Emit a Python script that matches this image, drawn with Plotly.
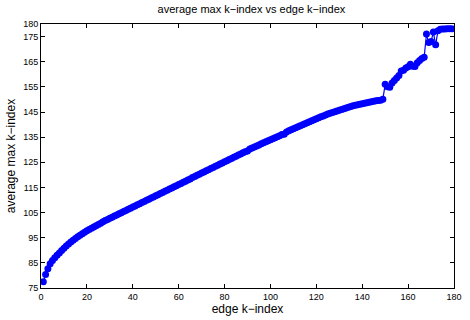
import plotly.graph_objects as go

edge_k = list(range(1, 180))
avg_max_k = [
    77.5, 80.4, 82.7, 84.6, 85.9, 87.0, 88.0, 88.9, 89.9, 90.8,
    91.7, 92.5, 93.3, 94.0, 94.7, 95.4, 96.0, 96.6, 97.2, 97.8,
    98.3, 98.8, 99.3, 99.8, 100.3, 100.8, 101.3, 101.8, 102.2, 102.7,
    103.1, 103.6, 104.0, 104.5, 104.9, 105.4, 105.8, 106.3, 106.7, 107.2,
    107.6, 108.1, 108.5, 109.0, 109.4, 109.9, 110.3, 110.8, 111.2, 111.7,
    112.1, 112.6, 113.0, 113.5, 113.9, 114.4, 114.8, 115.3, 115.7, 116.2,
    116.6, 117.1, 117.5, 118.0, 118.4, 118.9, 119.3, 119.8, 120.2, 120.7,
    121.1, 121.6, 122.0, 122.5, 122.9, 123.4, 123.8, 124.3, 124.7, 125.2,
    125.6, 126.1, 126.5, 127.0, 127.4, 127.9, 128.3, 128.8, 129.2, 129.5,
    130.3, 130.7, 131.1, 131.5, 131.9, 132.4, 132.8, 133.2, 133.6, 134.0,
    134.4, 134.8, 135.2, 135.6, 136.1, 136.2, 137.0, 137.5, 137.9, 138.3,
    138.7, 139.1, 139.5, 139.9, 140.3, 140.7, 141.1, 141.5, 141.9, 142.3,
    142.7, 143.1, 143.4, 143.8, 144.2, 144.5, 144.8, 145.1, 145.4, 145.7,
    146.0, 146.3, 146.6, 146.9, 147.2, 147.5, 147.7, 147.9, 148.1, 148.3,
    148.5, 148.7, 148.9, 149.1, 149.3, 149.5, 149.6, 149.7, 150.1, 156.0,
    155.0, 154.8, 156.5, 157.5, 158.5, 159.5, 161.3, 161.6, 162.5, 163.0,
    164.0, 163.2, 163.1, 164.6, 165.5, 166.3, 166.8, 176.0, 172.6, 173.0,
    176.8, 171.7, 177.3, 177.9, 178.0, 178.0, 178.1, 178.1, 178.1,
]
x_ticks = [0, 20, 40, 60, 80, 100, 120, 140, 160, 180]
y_ticks = [75, 85, 95, 105, 115, 125, 135, 145, 155, 165, 175, 180]

fig = go.Figure(go.Scatter(
    x=edge_k, y=avg_max_k, mode="lines+markers",
    line=dict(color="#0000ff", width=1.2),
    marker=dict(color="#0000ff", size=7, line=dict(width=0)),
))

font = "Liberation Sans, Arial, Helvetica, sans-serif"
axis_common = dict(
    showgrid=False, zeroline=False, showline=True, linecolor="black",
    linewidth=1, mirror="ticks", ticks="inside", ticklen=4,
    tickcolor="black", tickfont=dict(size=9, color="black", family=font),
)
fig.update_layout(
    width=470, height=320,
    margin=dict(l=41, r=8, t=24, b=26),
    paper_bgcolor="white", plot_bgcolor="white",
    showlegend=False,
    font=dict(family=font, color="black"),
    title=dict(text="average max k\u2212index vs edge k\u2212index",
               x=0.535, xanchor="center", y=0.972, yanchor="middle",
               font=dict(size=11, color="black", family=font)),
    xaxis=dict(range=[0, 180], tickvals=x_ticks,
               title=dict(text="edge k\u2212index", standoff=2,
                          font=dict(size=12, family=font)),
               **axis_common),
    yaxis=dict(range=[75, 180], tickvals=y_ticks,
               title=dict(text="average max k\u2212index", standoff=4,
                          font=dict(size=12, family=font)),
               **axis_common),
)
fig.write_html("out.html")
